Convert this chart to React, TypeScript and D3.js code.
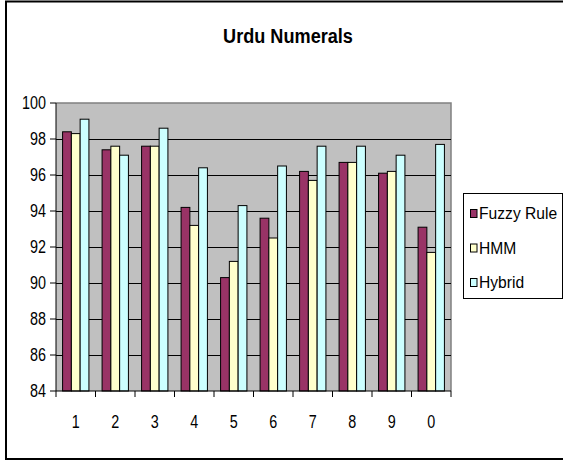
import React from "react";
import * as d3 from "d3";

const categories = ["1", "2", "3", "4", "5", "6", "7", "8", "9", "0"];
const seriesNames = ["Fuzzy Rule", "HMM", "Hybrid"];
const fuzzyRule = [98.4, 97.4, 97.6, 94.2, 90.3, 93.6, 96.2, 96.7, 96.1, 93.1];
const hmm = [98.3, 97.6, 97.6, 93.2, 91.2, 92.5, 95.7, 96.7, 96.2, 91.7];
const hybrid = [99.1, 97.1, 98.6, 96.4, 94.3, 96.5, 97.6, 97.6, 97.1, 97.7];
const yTicks = [84, 86, 88, 90, 92, 94, 96, 98, 100];
const colors = ["#993366", "#FFFFCC", "#CCFFFF"];

const W = 563;
const H = 461;
const plot = { left: 56, right: 451, top: 103, bottom: 391 };

export default function App() {
  const seriesData = [fuzzyRule, hmm, hybrid];

  const x = d3
    .scaleBand<string>()
    .domain(categories)
    .range([plot.left, plot.right])
    .padding(0);

  const xInner = d3
    .scaleBand<string>()
    .domain(seriesNames)
    .range([0, x.bandwidth()])
    .paddingInner(0)
    .paddingOuter(0.75);

  const y = d3.scaleLinear().domain([84, 100]).range([plot.bottom, plot.top]);

  const font = "'Liberation Sans', Arial, sans-serif";
  // the original uses a condensed face; squeeze regular Arial metrics instead
  const narrow = 0.82;

  // category boundaries for the x tick marks
  const xTickPos = categories.map((c) => x(c)!).concat([plot.right]);

  return (
    <svg
      width={W}
      height={H}
      style={{ position: "absolute", left: 0, top: 0, background: "#fff" }}
    >
      {/* outer chart frame */}
      <rect x={6} y={1.5} width={W + 10} height={457.5} fill="#fff" stroke="#000" strokeWidth={2} />

      <text
        transform={`translate(288,43) scale(0.93,1)`}
        textAnchor="middle"
        fontFamily={font}
        fontWeight="bold"
        fontSize={19.5}
      >
        Urdu Numerals
      </text>

      {/* plot area */}
      <rect
        x={plot.left}
        y={plot.top}
        width={plot.right - plot.left}
        height={plot.bottom - plot.top}
        fill="#C0C0C0"
      />
      <path
        d={`M${plot.left},${plot.top}H${plot.right}V${plot.bottom}`}
        fill="none"
        stroke="#808080"
        strokeWidth={1.5}
      />

      {yTicks.slice(1, -1).map((t) => (
        <line
          key={"g" + t}
          x1={plot.left}
          x2={plot.right}
          y1={Math.round(y(t)) + 0.5}
          y2={Math.round(y(t)) + 0.5}
          stroke="#000"
          strokeWidth={1}
        />
      ))}

      {/* bars */}
      {seriesData.map((vals, si) =>
        vals.map((v, ci) => (
          <rect
            key={si + "-" + ci}
            x={x(categories[ci])! + xInner(seriesNames[si])!}
            y={y(v)}
            width={xInner.bandwidth()}
            height={plot.bottom - y(v)}
            fill={colors[si]}
            stroke="#000"
            strokeWidth={1}
          />
        ))
      )}

      {/* y axis */}
      <line x1={plot.left} x2={plot.left} y1={plot.top} y2={plot.bottom} stroke="#000" />
      {yTicks.map((t) => (
        <g key={"y" + t}>
          <line x1={plot.left - 6} x2={plot.left} y1={y(t)} y2={y(t)} stroke="#000" />
          <text
            transform={`translate(46,${y(t)}) scale(${narrow},1)`}
            dy="0.36em"
            textAnchor="end"
            fontFamily={font}
            fontSize={17.5}
          >
            {t}
          </text>
        </g>
      ))}

      {/* x axis */}
      <line x1={plot.left} x2={plot.right} y1={plot.bottom} y2={plot.bottom} stroke="#000" />
      {xTickPos.map((p, i) => (
        <line key={"xt" + i} x1={p} x2={p} y1={plot.bottom} y2={plot.bottom + 6} stroke="#000" />
      ))}
      {categories.map((c) => (
        <text
          key={"xl" + c}
          transform={`translate(${x(c)! + x.bandwidth() / 2},428) scale(${narrow},1)`}
          textAnchor="middle"
          fontFamily={font}
          fontSize={17.5}
        >
          {c}
        </text>
      ))}

      {/* legend */}
      <rect x={463.5} y={193.5} width={99} height={105} fill="#fff" stroke="#000" strokeWidth={1} />
      {seriesNames.map((name, i) => {
        const base = 219 + i * 34.5;
        return (
          <g key={"lg" + name}>
            <rect x={470.5} y={base - 9.5} width={6.5} height={8} fill={colors[i]} stroke="#000" />
            <text
              transform={`translate(479,${base}) scale(0.92,1)`}
              fontFamily={font}
              fontSize={17}
            >
              {name}
            </text>
          </g>
        );
      })}
    </svg>
  );
}
